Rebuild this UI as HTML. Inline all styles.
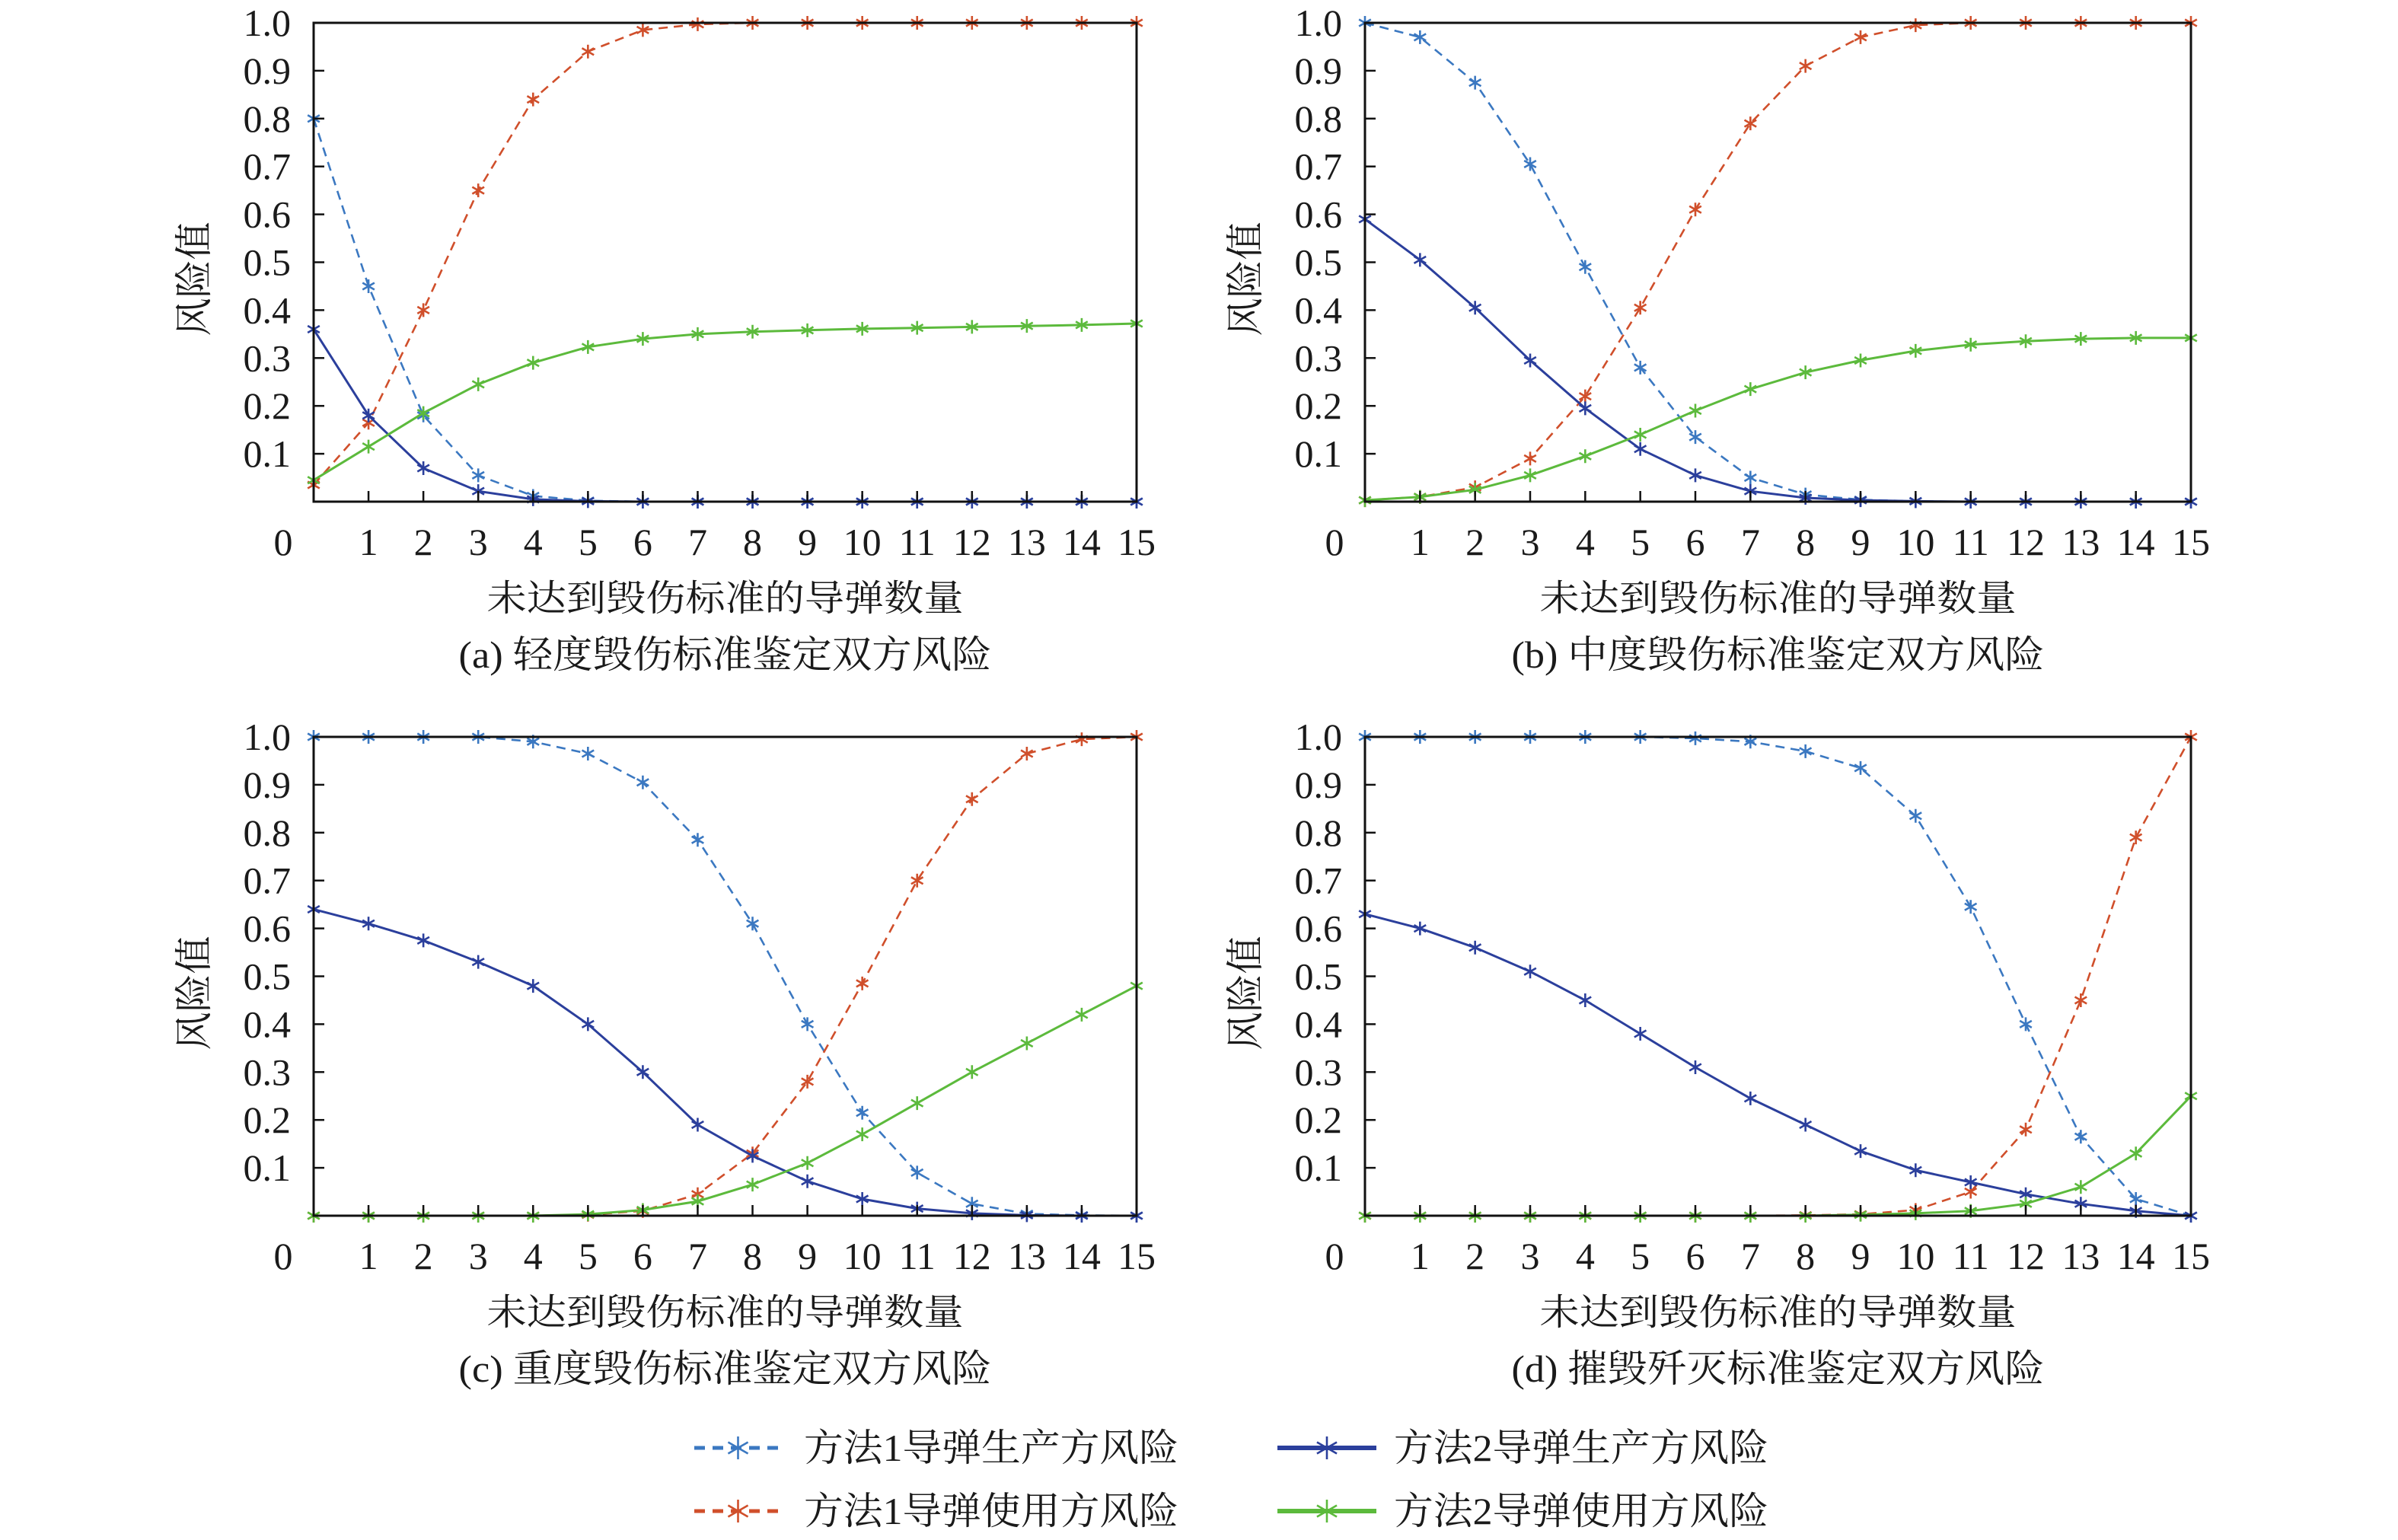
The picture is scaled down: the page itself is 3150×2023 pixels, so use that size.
<!DOCTYPE html>
<html><head><meta charset="utf-8">
<style>
html,body{margin:0;padding:0;background:#fff;}
svg text{font-family:"Liberation Serif","Noto Serif CJK SC",serif;fill:#1a1a1a;}
</style></head>
<body>
<svg id="chart" width="3150" height="2018" viewBox="0 0 3150 2018" xmlns="http://www.w3.org/2000/svg"></svg>
<script>
const xCategories = [0,1,2,3,4,5,6,7,8,9,10,11,12,13,14,15];
const yTickLabels = ["0.1","0.2","0.3","0.4","0.5","0.6","0.7","0.8","0.9","1.0"];
const xTickLabels = ["0","1","2","3","4","5","6","7","8","9","10","11","12","13","14","15"];
const panelTitles = ["(a) 轻度毁伤标准鉴定双方风险","(b) 中度毁伤标准鉴定双方风险","(c) 重度毁伤标准鉴定双方风险","(d) 摧毁歼灭标准鉴定双方风险"];
const seriesNames = ["方法1导弹生产方风险","方法1导弹使用方风险","方法2导弹生产方风险","方法2导弹使用方风险"];

const aM1Prod = [0.80,0.45,0.18,0.055,0.012,0.002,0,0,0,0,0,0,0,0,0,0];
const aM1User = [0.035,0.165,0.40,0.65,0.84,0.94,0.985,0.997,1,1,1,1,1,1,1,1];
const aM2Prod = [0.36,0.18,0.07,0.022,0.005,0.001,0,0,0,0,0,0,0,0,0,0];
const aM2User = [0.045,0.115,0.185,0.245,0.29,0.323,0.34,0.35,0.355,0.358,0.361,0.363,0.365,0.367,0.369,0.372];

const bM1Prod = [1.0,0.97,0.875,0.705,0.49,0.28,0.135,0.05,0.015,0.004,0.001,0,0,0,0,0];
const bM1User = [0.003,0.01,0.03,0.09,0.22,0.405,0.61,0.79,0.91,0.97,0.995,1,1,1,1,1];
const bM2Prod = [0.59,0.505,0.405,0.295,0.195,0.11,0.055,0.022,0.008,0.003,0.001,0,0,0,0,0];
const bM2User = [0.003,0.01,0.025,0.055,0.095,0.14,0.19,0.235,0.27,0.295,0.315,0.328,0.335,0.34,0.342,0.342];

const cM1Prod = [1,1,1,1,0.99,0.965,0.905,0.785,0.61,0.40,0.215,0.09,0.025,0.004,0.001,0];
const cM1User = [0,0,0,0,0,0.002,0.01,0.045,0.13,0.28,0.485,0.70,0.87,0.965,0.995,1];
const cM2Prod = [0.64,0.61,0.575,0.53,0.48,0.40,0.30,0.19,0.125,0.072,0.035,0.015,0.005,0.001,0,0];
const cM2User = [0,0,0,0,0,0.003,0.012,0.03,0.065,0.11,0.17,0.235,0.30,0.36,0.42,0.48];

const dM1Prod = [1,1,1,1,1,1,0.997,0.99,0.97,0.935,0.835,0.645,0.40,0.165,0.035,0];
const dM1User = [0,0,0,0,0,0,0,0,0.001,0.003,0.012,0.05,0.18,0.45,0.79,1.0];
const dM2Prod = [0.63,0.60,0.56,0.51,0.45,0.38,0.31,0.245,0.19,0.135,0.095,0.07,0.045,0.025,0.01,0];
const dM2User = [0,0,0,0,0,0,0,0,0,0.002,0.005,0.01,0.025,0.06,0.13,0.25];

const NS="http://www.w3.org/2000/svg";
const svg=document.getElementById('chart');
const colors=["#3b78c1","#d04f2b","#2b3f9c","#5cba3c"];
const dashed=[true,true,false,false];
function mk(tag,attrs,parent){const e=document.createElementNS(NS,tag);for(const k in attrs)e.setAttribute(k,attrs[k]);(parent||svg).appendChild(e);return e;}
function star(g,x,y,c,s){
  const p=`M${x},${y-s}L${x},${y+s}M${x-s*0.87},${y-s*0.5}L${x+s*0.87},${y+s*0.5}M${x-s*0.87},${y+s*0.5}L${x+s*0.87},${y-s*0.5}`;
  const e=mk('path',{d:p,stroke:c,'stroke-width':2.6,fill:'none'},g);
  
  
}
const panels=[
 {L:412,R:1493,T:30,B:659,data:[aM1Prod,aM1User,aM2Prod,aM2User]},
 {L:1793,R:2878,T:30,B:659,data:[bM1Prod,bM1User,bM2Prod,bM2User]},
 {L:412,R:1493,T:968,B:1597,data:[cM1Prod,cM1User,cM2Prod,cM2User]},
 {L:1793,R:2878,T:968,B:1597,data:[dM1Prod,dM1User,dM2Prod,dM2User]}
];
panels.forEach((p,pi)=>{
  const g=mk('g',{});
  
  
  const xs=v=>p.L+(v-xCategories[0])/(xCategories[xCategories.length-1]-xCategories[0])*(p.R-p.L);
  const ys=v=>p.B-v*(p.B-p.T);
  p.data.forEach((arr,si)=>{
    const d=arr.map((v,i)=>(i?'L':'M')+xs(xCategories[i]).toFixed(1)+','+ys(v).toFixed(1)).join('');
    const ln=mk('path',{d:d,fill:'none',stroke:colors[si],'stroke-width':dashed[si]?2.6:3,'stroke-dasharray':dashed[si]?'12,8':'none'},g);
    
    
    arr.forEach((v,i)=>star(g,xs(xCategories[i]),ys(v),colors[si],9));
  });
  const fr=mk('rect',{x:p.L,y:p.T,width:p.R-p.L,height:p.B-p.T,fill:'none',stroke:'#111','stroke-width':3},g);
  
  
  yTickLabels.forEach((t)=>{
    const v=parseFloat(t);const y=ys(v);
    mk('line',{x1:p.L,x2:p.L+14,y1:y,y2:y,stroke:'#111','stroke-width':2.5},g);
    const tx=mk('text',{x:p.L-30,y:y+17,'font-size':50,'text-anchor':'end'},g);
    
    
    tx.textContent=t;
  });
  xCategories.forEach((c,i)=>{
    const x=xs(c);
    if(i>0&&i<xCategories.length-1) mk('line',{x1:x,x2:x,y1:p.B,y2:p.B-14,stroke:'#111','stroke-width':2.5},g);
    const tx=mk('text',{x:i===0?x-40:x,y:p.B+70,'font-size':50,'text-anchor':'middle'},g);
    
    
    tx.textContent=xTickLabels[i];
  });
  const cx=(p.L+p.R)/2;
  const xl=mk('text',{x:cx,y:p.B+143,'font-size':48,'text-anchor':'middle',textLength:626,lengthAdjust:'spacingAndGlyphs'},g);
  
  
  xl.textContent='未达到毁伤标准的导弹数量';
  const tl=mk('text',{x:cx,y:p.B+218,'font-size':50,'text-anchor':'middle',textLength:700,lengthAdjust:'spacingAndGlyphs'},g);
  
  
  tl.textContent=panelTitles[pi];
  const yc=(p.T+p.B)/2+22, yx=p.L-140;
  const yl=mk('text',{x:yx,y:yc,'font-size':50,'text-anchor':'middle',transform:`rotate(-90 ${yx} ${yc})`,textLength:150,lengthAdjust:'spacingAndGlyphs'},g);
  
  
  yl.textContent='风险值';
});
const legPos=[[912,1902],[912,1985],[1678,1902],[1678,1985]];
seriesNames.forEach((n,si)=>{
  const g=mk('g',{});
  
  
  const [x,y]=legPos[si];
  const w=dashed[si]?115:130;
  mk('line',{x1:x,x2:x+w,y1:y,y2:y,stroke:colors[si],'stroke-width':dashed[si]?5:6,'stroke-dasharray':dashed[si]?'14,10':'none'},g);
  star(g,x+w/2,y,colors[si],15);
  const tx=mk('text',{x:dashed[si]?1056:1831,y:y+17,'font-size':50,textLength:492,lengthAdjust:'spacingAndGlyphs'},g);
  
  
  tx.textContent=n;
});
</script>
</body></html>
